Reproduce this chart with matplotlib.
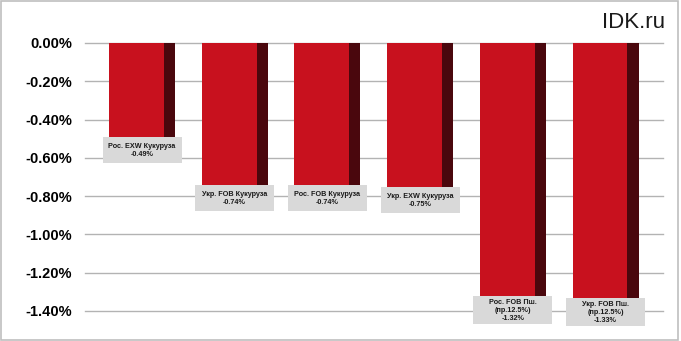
import matplotlib
matplotlib.use("Agg")
import matplotlib.pyplot as plt
from matplotlib.patches import Rectangle

categories = ["Рос. EXW Кукуруза", "Укр. FOB Кукуруза", "Рос. FOB Кукуруза",
              "Укр. EXW Кукуруза", "Рос. FOB Пш.\n(пр.12.5%)", "Укр. FOB Пш.\n(пр.12.5%)"]
values = [-0.49, -0.74, -0.74, -0.75, -1.32, -1.33]
yticks = [0.0, -0.2, -0.4, -0.6, -0.8, -1.0, -1.2, -1.4]
ytick_labels = ["0.00%", "-0.20%", "-0.40%", "-0.60%", "-0.80%", "-1.00%", "-1.20%", "-1.40%"]

FRONT = "#c8111e"
SIDE = "#4a070d"
BOXC = "#d9d9d9"

fig = plt.figure(figsize=(6.81, 3.41), dpi=100)
ax = fig.add_axes([85/681, 1-311/341, 578/681, 268/341])

x = list(range(len(values)))
fl = [xi - 0.356 for xi in x]
sl = [xi + 0.237 for xi in x]
ax.bar(fl, values, width=0.593, align="edge", color=FRONT, zorder=3)
ax.bar(sl, values, width=0.119, align="edge", color=SIDE, zorder=3)

ax.set_xlim(-0.615, 5.62)
ax.set_ylim(-1.4, 0)
ax.set_yticks(yticks)
ax.set_yticklabels(ytick_labels, fontfamily="Liberation Sans", fontweight="bold", fontsize=10.5)
ax.tick_params(axis="y", length=0, pad=9.5)
ax.set_xticks([])
for s in ax.spines.values():
    s.set_visible(False)
for yv in yticks:
    ax.axhline(yv, color="#b3b3b3", linewidth=1, zorder=1, clip_on=False)

px_y = 1.4 / 268.0
px_x = (5.62 + 0.615) / 578.0
for xi, v, c in zip(x, values, categories):
    nlines = c.count("\n") + 2
    h = (26 if nlines == 2 else 28) * px_y
    w = 79 * px_x
    ax.add_patch(Rectangle((xi - w/2, v - h), w, h, facecolor=BOXC, edgecolor="none",
                           clip_on=False, zorder=4))
    ax.text(xi, v - h/2 - 1*px_y, c + "\n" + f"{v:.2f}%", ha="center", va="center",
            fontsize=5.2, fontweight="bold", fontfamily="Liberation Sans",
            linespacing=1.15, color="#1a1a1a", clip_on=False, zorder=5)

fig.text(665/681, 1-23/341, "IDK.ru", ha="right", va="center", fontsize=16,
         fontfamily="Liberation Sans", color="#1a1a1a")

fig.patches.append(Rectangle((0.001, 0.002), 0.994, 0.995, transform=fig.transFigure,
                             facecolor="none", edgecolor="#bfbfbf", linewidth=1.2))

fig.savefig("out.png", dpi=100)
